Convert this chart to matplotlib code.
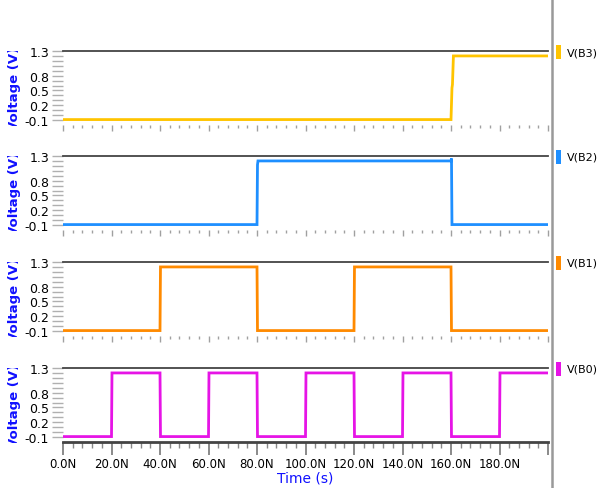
import matplotlib
matplotlib.use("Agg")
import matplotlib.pyplot as plt
from matplotlib.patches import Rectangle
from matplotlib.lines import Line2D
from matplotlib.transforms import Bbox
import numpy as np

# ---------------- data ----------------
signal_names = ["V(B3)", "V(B2)", "V(B1)", "V(B0)"]
signal_colors = ["#FFC400", "#1E8FFF", "#FF8A00", "#E614E6"]

# time points (ns) and voltages (V) for each trace (step waveforms)
t_b3 = [0, 160, 160.4, 160.6, 161, 200]
v_b3 = [-0.09, -0.09, 0.55, 0.62, 1.2, 1.2]

t_b2 = [0, 80, 80.2, 80.4, 160, 160.2, 160.4, 200]
v_b2 = [-0.09, -0.09, 1.12, 1.2, 1.2, 1.25, -0.09, -0.09]

t_b1 = [0, 40, 40.2, 80, 80.2, 120, 120.2, 160, 160.2, 200]
v_b1 = [-0.09, -0.09, 1.2, 1.2, -0.09, -0.09, 1.2, 1.2, -0.09, -0.09]

t_b0 = [0, 20, 20.2, 40, 40.2, 60, 60.2, 80, 80.2, 100, 100.2,
        120, 120.2, 140, 140.2, 160, 160.2, 180, 180.2, 200]
v_b0 = [-0.09, -0.09, 1.2, 1.2, -0.09, -0.09, 1.2, 1.2, -0.09, -0.09, 1.2,
        1.2, -0.09, -0.09, 1.2, 1.2, -0.09, -0.09, 1.2, 1.2]

traces = [(t_b3, v_b3), (t_b2, v_b2), (t_b1, v_b1), (t_b0, v_b0)]

x_major = [0, 20, 40, 60, 80, 100, 120, 140, 160, 180, 200]
x_labels = ["0.0N", "20.0N", "40.0N", "60.0N", "80.0N", "100.0N",
            "120.0N", "140.0N", "160.0N", "180.0N", ""]
y_major = [-0.1, 0.2, 0.5, 0.8, 1.3]
y_labels = ["-0.1", "0.2", "0.5", "0.8", "1.3"]

# ---------------- figure ----------------
W, H = 600, 489
fig = plt.figure(figsize=(W / 100, H / 100), dpi=100)
fig.patch.set_facecolor("white")

left_px, right_px = 63, 548
panel_tops = [52, 157, 263, 369]
panel_h = 74

for i, ((t, v), col, name, top) in enumerate(zip(traces, signal_colors, signal_names, panel_tops)):
    ax = fig.add_axes([left_px / W, 1 - (top + panel_h) / H,
                       (right_px - left_px) / W, panel_h / H])
    ax.plot(t, v, color=col, lw=2.0, solid_joinstyle="miter")
    ax.set_xlim(0, 200)
    ax.set_ylim(-0.2, 1.3)

    for s in ["left", "right"]:
        ax.spines[s].set_visible(False)
    ax.spines["top"].set_color("#444444")
    ax.spines["top"].set_linewidth(1.3)
    last = (i == 3)
    if last:
        ax.spines["bottom"].set_color("#444444")
        ax.spines["bottom"].set_linewidth(2.0)
    else:
        ax.spines["bottom"].set_visible(False)

    ax.set_yticks(y_major)
    ax.set_yticklabels(y_labels)
    ax.set_yticks(np.arange(-0.1, 1.31, 0.1), minor=True)
    ax.tick_params(axis="y", which="both", direction="out", length=8, width=1,
                   color="#b0b0b0", labelsize=9, pad=2, labelcolor="black")

    ax.set_xticks(x_major)
    ax.set_xticks(np.arange(0, 201, 4), minor=True)
    if last:
        ax.set_xticklabels(x_labels)
        ax.tick_params(axis="x", which="major", direction="out", length=9, width=1.2,
                       color="#777777", labelsize=8.5, pad=2)
        ax.tick_params(axis="x", which="minor", direction="out", length=4, width=1,
                       color="#888888")
    else:
        ax.set_xticklabels([""] * len(x_major))
        ax.tick_params(axis="x", which="major", direction="out", length=4, width=1,
                       color="#a0a0a0", pad=1)
        ax.tick_params(axis="x", which="minor", direction="out", length=2, width=1,
                       color="#a0a0a0")

    # y label, clipped to the panel's vertical extent
    y_mid = 1 - (top + panel_h / 2) / H
    txt = fig.text(15 / W, y_mid, "Voltage (V)", rotation=90, ha="center", va="center",
                   color="#1010FF", fontsize=9.5, fontweight="bold")
    txt.set_clip_on(True)
    txt.set_clip_box(Bbox.from_extents(0, (H - (top + panel_h + 1)), W, (H - top)))

    # legend entry at the right
    fig.patches.append(Rectangle((556 / W, 1 - (top + 8) / H), 5 / W, 14 / H,
                                 transform=fig.transFigure, facecolor=col,
                                 edgecolor="none"))
    fig.text(567 / W, 1 - (top + 1) / H, name, ha="left", va="center",
             fontsize=8, color="black")

    if last:
        ax.set_xlabel("Time (s)", color="#1010FF", fontsize=10, labelpad=0)

# vertical divider at the right
fig.add_artist(Line2D([552 / W, 552 / W], [0, 1], transform=fig.transFigure,
                      color="#999999", lw=1.8))

fig.savefig("out.png", dpi=100, facecolor="white")
